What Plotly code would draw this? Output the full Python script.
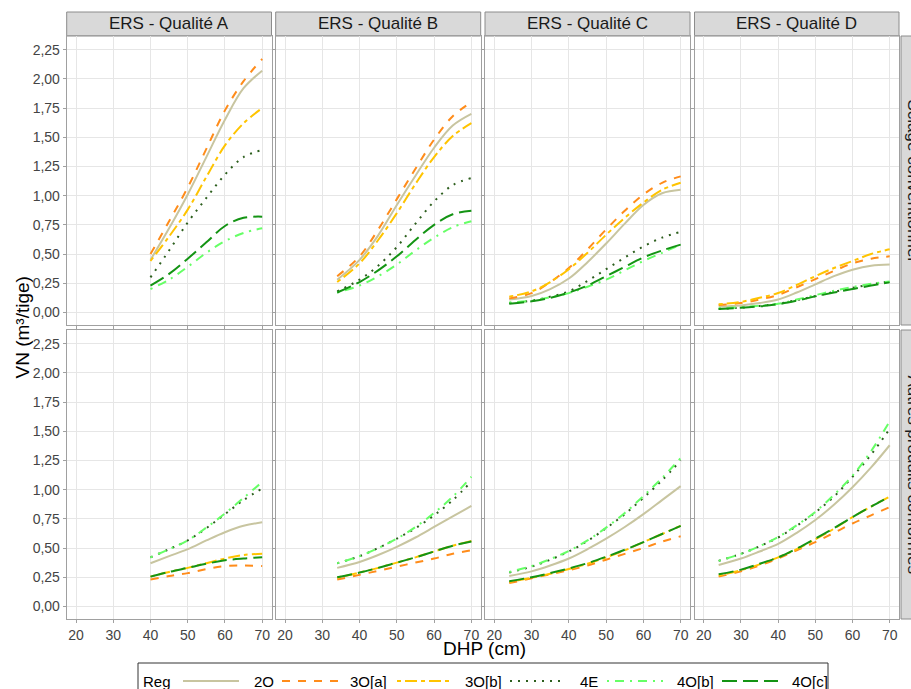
import plotly.graph_objects as go

W, H = 911, 689

# ---------------- data ----------------
series = ["2O", "3O[a]", "3O[b]", "4E", "4O[b]", "4O[c]"]
col_titles = ["ERS - Qualité A", "ERS - Qualité B", "ERS - Qualité C", "ERS - Qualité D"]
row_titles = ["Sciage conventionnel", "Autres produits conformes"]

x_ticks = [20, 30, 40, 50, 60, 70]
y_ticks = [0, 0.25, 0.5, 0.75, 1.0, 1.25, 1.5, 1.75, 2.0, 2.25]
y_ticktext = ["0,00", "0,25", "0,50", "0,75", "1,00", "1,25", "1,50", "1,75", "2,00", "2,25"]

dhp_A = [40, 45, 50, 55, 60, 65, 70]
dhp_B = [34, 40, 45, 50, 55, 60, 65, 70]
dhp_C = [24, 30, 35, 40, 45, 50, 55, 60, 65, 70]
dhp_D = [24, 30, 35, 40, 45, 50, 55, 60, 65, 70]

# Sciage conventionnel
sc_A_2O  = [0.45, 0.72, 1.01, 1.33, 1.65, 1.92, 2.07]
sc_A_3Oa = [0.50, 0.78, 1.07, 1.40, 1.73, 1.98, 2.17]
sc_A_3Ob = [0.44, 0.65, 0.88, 1.16, 1.43, 1.62, 1.75]
sc_A_4E  = [0.30, 0.53, 0.77, 0.98, 1.18, 1.33, 1.39]
sc_A_4Ob = [0.20, 0.28, 0.39, 0.51, 0.61, 0.68, 0.72]
sc_A_4Oc = [0.23, 0.33, 0.46, 0.60, 0.74, 0.81, 0.82]

sc_B_2O  = [0.28, 0.45, 0.66, 0.92, 1.17, 1.41, 1.60, 1.70]
sc_B_3Oa = [0.31, 0.48, 0.71, 0.97, 1.23, 1.48, 1.68, 1.80]
sc_B_3Ob = [0.26, 0.42, 0.62, 0.85, 1.10, 1.33, 1.51, 1.62]
sc_B_4E  = [0.18, 0.28, 0.40, 0.56, 0.76, 0.95, 1.09, 1.15]
sc_B_4Ob = [0.17, 0.23, 0.31, 0.41, 0.53, 0.64, 0.73, 0.78]
sc_B_4Oc = [0.17, 0.26, 0.36, 0.48, 0.62, 0.75, 0.84, 0.87]

sc_C_2O  = [0.11, 0.14, 0.20, 0.29, 0.43, 0.59, 0.76, 0.92, 1.02, 1.05]
sc_C_3Oa = [0.12, 0.165, 0.26, 0.38, 0.54, 0.71, 0.87, 1.01, 1.11, 1.165]
sc_C_3Ob = [0.135, 0.18, 0.26, 0.37, 0.51, 0.665, 0.81, 0.94, 1.05, 1.11]
sc_C_4E  = [0.08, 0.10, 0.135, 0.18, 0.27, 0.37, 0.47, 0.565, 0.64, 0.69]
sc_C_4Ob = [0.085, 0.10, 0.13, 0.165, 0.22, 0.28, 0.36, 0.44, 0.51, 0.58]
sc_C_4Oc = [0.075, 0.095, 0.125, 0.17, 0.23, 0.31, 0.39, 0.47, 0.53, 0.58]

sc_D_2O  = [0.05, 0.06, 0.08, 0.11, 0.17, 0.24, 0.31, 0.365, 0.40, 0.41]
sc_D_3Oa = [0.063, 0.08, 0.11, 0.15, 0.215, 0.285, 0.355, 0.42, 0.46, 0.48]
sc_D_3Ob = [0.07, 0.09, 0.125, 0.166, 0.235, 0.31, 0.38, 0.44, 0.50, 0.54]
sc_D_4E  = [0.03, 0.04, 0.055, 0.074, 0.105, 0.14, 0.175, 0.21, 0.24, 0.265]
sc_D_4Ob = [0.035, 0.045, 0.058, 0.074, 0.11, 0.148, 0.185, 0.217, 0.245, 0.265]
sc_D_4Oc = [0.03, 0.04, 0.052, 0.07, 0.10, 0.137, 0.17, 0.20, 0.23, 0.257]

# Autres produits conformes
ap_A_2O  = [0.37, 0.43, 0.49, 0.565, 0.635, 0.69, 0.72]
ap_A_3Oa = [0.23, 0.26, 0.285, 0.32, 0.345, 0.35, 0.345]
ap_A_3Ob = [0.255, 0.295, 0.33, 0.37, 0.41, 0.44, 0.45]
ap_A_4E  = [0.42, 0.49, 0.565, 0.67, 0.79, 0.91, 1.01]
ap_A_4Ob = [0.42, 0.49, 0.565, 0.675, 0.795, 0.93, 1.065]
ap_A_4Oc = [0.255, 0.295, 0.33, 0.365, 0.395, 0.41, 0.42]

ap_B_2O  = [0.33, 0.38, 0.44, 0.51, 0.59, 0.68, 0.77, 0.86]
ap_B_3Oa = [0.23, 0.27, 0.305, 0.34, 0.375, 0.41, 0.45, 0.48]
ap_B_3Ob = [0.245, 0.29, 0.33, 0.375, 0.42, 0.47, 0.52, 0.56]
ap_B_4E  = [0.37, 0.43, 0.50, 0.58, 0.67, 0.78, 0.91, 1.07]
ap_B_4Ob = [0.37, 0.43, 0.50, 0.58, 0.68, 0.80, 0.94, 1.11]
ap_B_4Oc = [0.25, 0.29, 0.33, 0.375, 0.42, 0.47, 0.52, 0.555]

ap_C_2O  = [0.26, 0.30, 0.35, 0.41, 0.49, 0.58, 0.68, 0.79, 0.91, 1.03]
ap_C_3Oa = [0.20, 0.24, 0.275, 0.31, 0.35, 0.40, 0.45, 0.50, 0.555, 0.60]
ap_C_3Ob = [0.21, 0.245, 0.28, 0.32, 0.365, 0.42, 0.48, 0.55, 0.62, 0.69]
ap_C_4E  = [0.29, 0.34, 0.40, 0.47, 0.56, 0.67, 0.79, 0.93, 1.08, 1.25]
ap_C_4Ob = [0.295, 0.345, 0.405, 0.475, 0.565, 0.675, 0.80, 0.945, 1.10, 1.27]
ap_C_4Oc = [0.215, 0.25, 0.285, 0.325, 0.37, 0.425, 0.485, 0.55, 0.62, 0.69]

ap_D_2O  = [0.355, 0.41, 0.47, 0.535, 0.63, 0.74, 0.87, 1.02, 1.19, 1.38]
ap_D_3Oa = [0.255, 0.30, 0.35, 0.41, 0.48, 0.55, 0.63, 0.71, 0.78, 0.85]
ap_D_3Ob = [0.265, 0.31, 0.36, 0.42, 0.49, 0.575, 0.665, 0.765, 0.855, 0.94]
ap_D_4E  = [0.39, 0.45, 0.515, 0.59, 0.69, 0.805, 0.94, 1.11, 1.30, 1.52]
ap_D_4Ob = [0.39, 0.45, 0.515, 0.595, 0.695, 0.81, 0.955, 1.12, 1.33, 1.585]
ap_D_4Oc = [0.275, 0.315, 0.365, 0.42, 0.495, 0.58, 0.67, 0.765, 0.855, 0.94]

# ---------------- assembly ----------------
dhp_cols = [dhp_A, dhp_B, dhp_C, dhp_D]
panels = [
    [[sc_A_2O, sc_A_3Oa, sc_A_3Ob, sc_A_4E, sc_A_4Ob, sc_A_4Oc],
     [sc_B_2O, sc_B_3Oa, sc_B_3Ob, sc_B_4E, sc_B_4Ob, sc_B_4Oc],
     [sc_C_2O, sc_C_3Oa, sc_C_3Ob, sc_C_4E, sc_C_4Ob, sc_C_4Oc],
     [sc_D_2O, sc_D_3Oa, sc_D_3Ob, sc_D_4E, sc_D_4Ob, sc_D_4Oc]],
    [[ap_A_2O, ap_A_3Oa, ap_A_3Ob, ap_A_4E, ap_A_4Ob, ap_A_4Oc],
     [ap_B_2O, ap_B_3Oa, ap_B_3Ob, ap_B_4E, ap_B_4Ob, ap_B_4Oc],
     [ap_C_2O, ap_C_3Oa, ap_C_3Ob, ap_C_4E, ap_C_4Ob, ap_C_4Oc],
     [ap_D_2O, ap_D_3Oa, ap_D_3Ob, ap_D_4E, ap_D_4Ob, ap_D_4Oc]],
]

colors = ["#C8C5A0", "#FF8C1A", "#FFC400", "#2D5F1E", "#66FF66", "#149414"]
dashes = ["solid", "8px,8px", "4px,4px,12px,4px", "2px,6px", "2px,6px,9px,6px", "15px,6px"]
LW = 2

FONT = "Liberation Sans, Arial, sans-serif"

col_px = [(66.7, 271.5), (275.7, 480.7), (485.0, 690.0), (694.5, 899.0)]
row_px = [(36, 325), (330, 619)]

def px_x(p):
    return p / W

def px_y(p):
    return 1 - p / H

fig = go.Figure()
layout_axes = {}
grid_col = "#E6E6E6"
frame_col = "#A0A0A0"

for r in range(2):
    for c in range(4):
        k = r * 4 + c + 1
        xa = "x" if k == 1 else f"x{k}"
        ya = "y" if k == 1 else f"y{k}"
        for s in range(6):
            fig.add_trace(go.Scatter(
                x=dhp_cols[c], y=panels[r][c][s], mode="lines",
                line=dict(color=colors[s], width=LW, dash=dashes[s], shape="spline"),
                name=series[s], showlegend=False, xaxis=xa, yaxis=ya,
                hoverinfo="skip"))
        xd = [px_x(col_px[c][0]), px_x(col_px[c][1])]
        yd = [px_y(row_px[r][1]), px_y(row_px[r][0])]
        layout_axes["xaxis" if k == 1 else f"xaxis{k}"] = dict(
            domain=xd, anchor=ya, range=[17.5, 72.5], tickvals=x_ticks,
            showticklabels=(r == 1), ticks="outside", ticklen=3, tickcolor=frame_col,
            showgrid=True, gridcolor=grid_col, gridwidth=1, zeroline=False,
            showline=True, mirror=True, linecolor=frame_col, linewidth=1,
            tickfont=dict(family=FONT, size=14, color="#444444"))
        layout_axes["yaxis" if k == 1 else f"yaxis{k}"] = dict(
            domain=yd, anchor=xa, range=[-0.108, 2.367], tickvals=y_ticks,
            ticktext=y_ticktext, showticklabels=(c == 0), ticks="outside", ticklen=3,
            tickcolor=frame_col, showgrid=True, gridcolor=grid_col, gridwidth=1,
            zeroline=False, showline=True, mirror=True, linecolor=frame_col, linewidth=1,
            tickfont=dict(family=FONT, size=14, color="#444444"))

shapes = []
annotations = []
strip_fill = "#D9D9D9"
strip_line = "#8C8C8C"

# top strips
for c in range(4):
    shapes.append(dict(type="rect", xref="paper", yref="paper",
                       x0=px_x(col_px[c][0]), x1=px_x(col_px[c][1]),
                       y0=px_y(36), y1=px_y(12),
                       fillcolor=strip_fill, line=dict(color=strip_line, width=1), layer="below"))
    annotations.append(dict(text=col_titles[c], xref="paper", yref="paper",
                            x=px_x((col_px[c][0] + col_px[c][1]) / 2), y=px_y(24),
                            showarrow=False, xanchor="center", yanchor="middle",
                            font=dict(family=FONT, size=17, color="#1A1A1A")))
# right strips
for r in range(2):
    shapes.append(dict(type="rect", xref="paper", yref="paper",
                       x0=px_x(901), x1=px_x(940),
                       y0=px_y(row_px[r][1]), y1=px_y(row_px[r][0]),
                       fillcolor=strip_fill, line=dict(color=strip_line, width=1), layer="below"))
    annotations.append(dict(text=row_titles[r], xref="paper", yref="paper",
                            x=px_x(913), y=px_y((row_px[r][0] + row_px[r][1]) / 2),
                            showarrow=False, xanchor="center", yanchor="middle", textangle=90,
                            font=dict(family=FONT, size=17, color="#1A1A1A")))

# axis titles
annotations.append(dict(text="VN (m³/tige)", xref="paper", yref="paper",
                        x=px_x(22), y=px_y(327.5), showarrow=False, textangle=-90,
                        xanchor="center", yanchor="middle",
                        font=dict(family=FONT, size=19, color="#000000")))
annotations.append(dict(text="DHP (cm)", xref="paper", yref="paper",
                        x=px_x(484), y=px_y(648), showarrow=False,
                        xanchor="center", yanchor="middle",
                        font=dict(family=FONT, size=19, color="#000000")))

# legend (drawn manually to match ggplot key length)
shapes.append(dict(type="rect", xref="paper", yref="paper",
                   x0=px_x(138), x1=px_x(828), y0=px_y(705), y1=px_y(663),
                   fillcolor="white", line=dict(color="#333333", width=1)))
annotations.append(dict(text="Reg", xref="paper", yref="paper", x=px_x(141), y=px_y(681),
                        showarrow=False, xanchor="left", yanchor="middle",
                        font=dict(family=FONT, size=15, color="#000000")))
key_start = [183, 282, 397, 510, 607, 722]
label_start = [252, 348, 463, 578, 675, 790]
for s in range(6):
    shapes.append(dict(type="line", xref="paper", yref="paper",
                       x0=px_x(key_start[s]), x1=px_x(key_start[s] + 56),
                       y0=px_y(681), y1=px_y(681),
                       line=dict(color=colors[s], width=LW, dash=dashes[s])))
    annotations.append(dict(text=series[s], xref="paper", yref="paper",
                            x=px_x(label_start[s]), y=px_y(681),
                            showarrow=False, xanchor="left", yanchor="middle",
                            font=dict(family=FONT, size=15, color="#000000")))

fig.update_layout(
    width=W, height=H, margin=dict(l=0, r=0, t=0, b=0),
    paper_bgcolor="white", plot_bgcolor="white",
    showlegend=False, shapes=shapes, annotations=annotations,
    font=dict(family=FONT), **layout_axes)

fig.write_html("out.html", config={"displayModeBar": False},
               post_script="document.body.style.margin='0';document.body.style.overflow='hidden';")
